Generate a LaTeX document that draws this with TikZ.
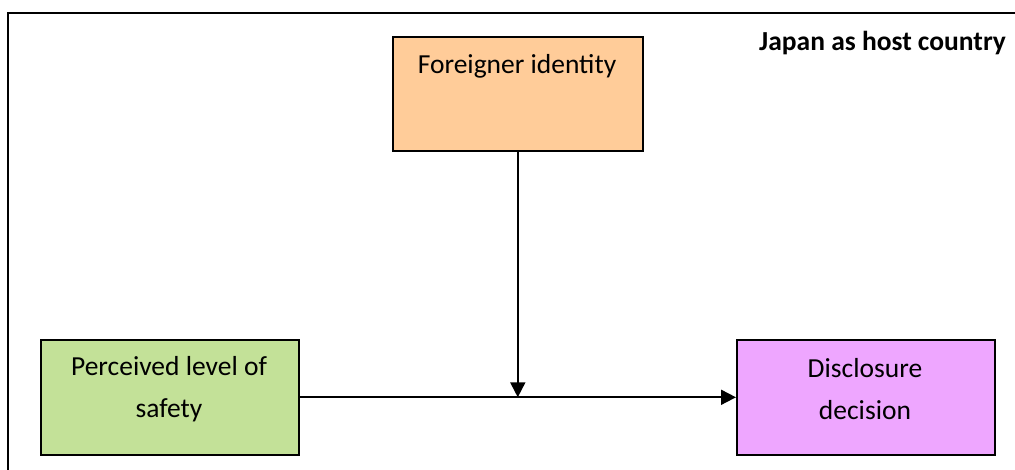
\documentclass[tikz,border=0pt]{standalone}
\usepackage{fontspec}
\setmainfont{Carlito}
\usetikzlibrary{arrows.meta}
\definecolor{boxorange}{RGB}{255,204,153}
\definecolor{boxgreen}{RGB}{195,225,152}
\definecolor{boxpink}{RGB}{238,166,255}
\tikzset{
  box/.style={draw=black, line width=1.6pt, inner sep=0pt, anchor=north west},
  txt/.style={font=\fontsize{27.5}{42}\selectfont, align=center, inner sep=0pt},
  flow/.style={line width=1.8pt, -{Triangle[width=15pt,length=15pt]}}
}
\begin{document}
\begin{tikzpicture}[x=1pt,y=-1pt]
  \useasboundingbox (0,0) rectangle (1015,470);
  \clip (0,0) rectangle (1015,470);
  % outer frame
  \draw[line width=2pt] (8,13) rectangle (1040,490);
  % boxes
  \node[box, fill=boxorange, minimum width=250pt, minimum height=114pt] (fi) at (392,36) {};
  \node[box, fill=boxgreen, minimum width=258pt, minimum height=115pt] (ps) at (40,339) {};
  \node[box, fill=boxpink, minimum width=258pt, minimum height=115pt] (dd) at (736,339) {};
  % labels
  \node[txt] (fitxt) at (517,66) {Foreigner identity};
  \node[txt] (pstxt) at (169,389) {Perceived level of\\safety};
  \node[txt] (ddtxt) at (865,389) {Disclosure\\decision};
  \node[txt, font=\bfseries\fontsize{27.5}{33}\selectfont, anchor=east] (title) at (1006,43) {Japan as host country};
  % connectors
  \coordinate (m) at (fi.south |- ps.east);
  \draw[flow] (ps.east) -- (dd.west);
  \draw[flow] (fi.south) -- (m);
\end{tikzpicture}
\end{document}
